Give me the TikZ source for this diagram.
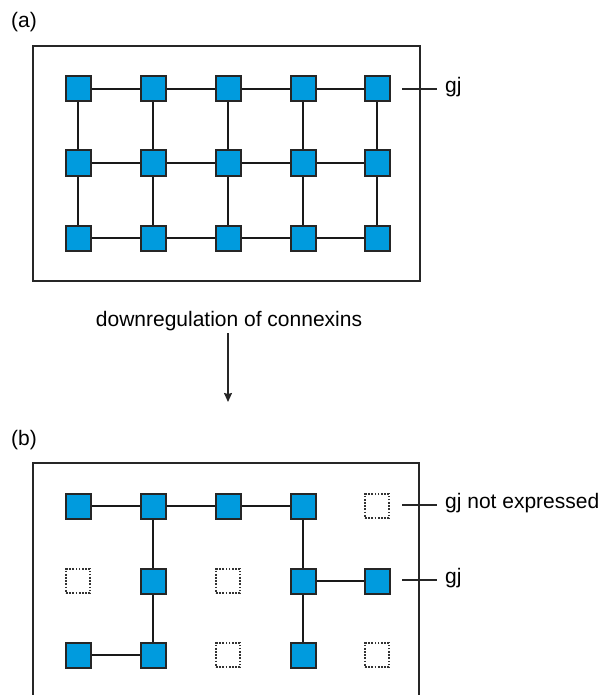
\documentclass[tikz,border=0pt]{standalone}
\usepackage{fontspec}
\setmainfont{Liberation Sans}
\usepackage{tikz}
\usetikzlibrary{arrows,arrows.meta,positioning}
\definecolor{cellblue}{RGB}{0,155,222}
\tikzset
{
    cell/.style     = {rectangle, draw=black!85, line width=2pt, fill=cellblue, minimum size=25pt, inner sep=0pt},
    gone/.style     = {rectangle, draw=black!80, dash pattern=on 1.7pt off 1.5pt, line width=2pt, minimum size=24pt, inner sep=0pt},
    link/.style     = {line width=1.5pt, black!90},
    frame/.style    = {line width=1.5pt, black!85},
    caption/.style  = {font=\fontsize{21}{25}\selectfont, inner sep=0pt}
}

\begin{document}
\begin{tikzpicture}[x=1pt, y=-1pt, >={Stealth[length=9pt,width=8pt,inset=1pt]}]
    \useasboundingbox (0,0) rectangle (600,695);
    % panel labels
    \node [caption, anchor=west] (pa) at (11,22) {(a)};
    \node [caption, anchor=west] (pb) at (11,440) {(b)};

    % (a): full network
    \draw [frame] (33,46) rectangle (420,281);
    \foreach \c/\x in {1/78,2/153,3/228,4/303,5/377}
    {
        \foreach \r/\y in {1/89,2/163,3/238}
        {
            \node [cell] (a\r\c) at (\x,\y) {};
        }
    }
    \foreach \r in {1,2,3}
    {
        \foreach \c [count=\n from 2] in {1,2,3,4}
        {
            \draw [link] (a\r\c) -- (a\r\n);
        }
    }
    \foreach \c in {1,...,5}
    {
        \draw [link] (a1\c) -- (a2\c);
        \draw [link] (a2\c) -- (a3\c);
    }
    \coordinate (tickA) at (402,89);
    \node [caption, anchor=west] (gjA) at (445,87) {gj};
    \draw [frame] (tickA) -- ([xshift=-8pt]gjA.west |- tickA);

    % downregulation
    \node [caption] (down) at (229,321) {downregulation of connexins};
    \coordinate (arrTop) at (228,333);
    \coordinate (arrBot) at (228,402);
    \draw [frame, ->] (arrTop) -- (arrBot);

    % (b): reduced network
    \draw [frame] (33,695) -- (33,463) -- (419,463) -- (419,695);
    \foreach \c/\x in {1/78,2/153,3/228,4/303,5/377}
    {
        \foreach \r/\y in {1/506,2/581,3/655}
        {
            \coordinate (b\r\c) at (\x,\y);
        }
    }
    \foreach \p in {11,12,13,14,22,24,25,31,32,34}
    {
        \node [cell] (c\p) at (b\p) {};
    }
    \foreach \p in {15,21,23,33,35}
    {
        \node [gone] (d\p) at (b\p) {};
    }
    \draw [link] (c11) -- (c12) -- (c13) -- (c14);
    \draw [link] (c12) -- (c22) -- (c32) -- (c31);
    \draw [link] (c14) -- (c24) -- (c34);
    \draw [link] (c24) -- (c25);

    \coordinate (tickB) at (402,505);
    \node [caption, anchor=west] (gjNot) at (445,503) {gj not expressed};
    \draw [frame] (tickB) -- ([xshift=-8pt]gjNot.west |- tickB);
    \coordinate (tickC) at (402,580);
    \node [caption, anchor=west] (gjB) at (445,578) {gj};
    \draw [frame] (tickC) -- ([xshift=-8pt]gjB.west |- tickC);
\end{tikzpicture}
\end{document}
